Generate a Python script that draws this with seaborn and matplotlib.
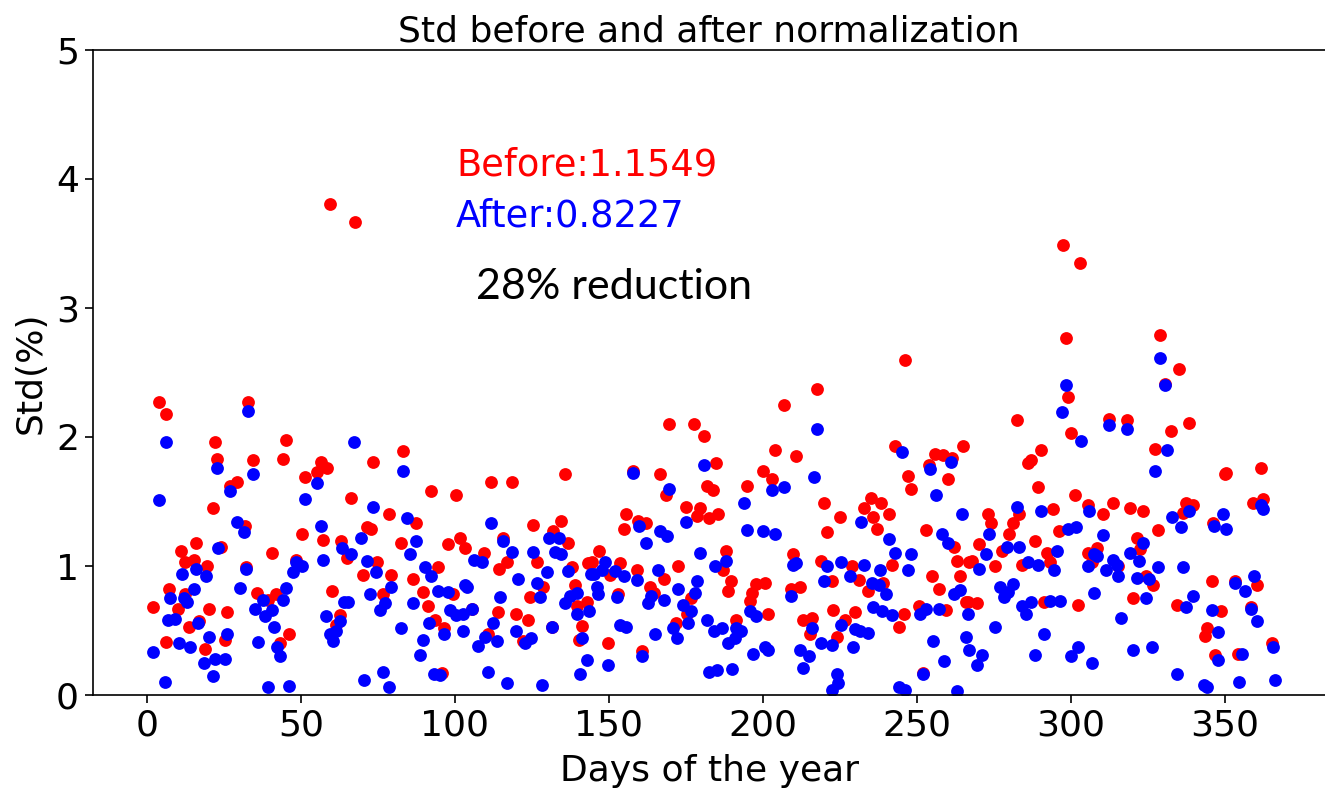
import matplotlib
matplotlib.use("Agg")
import matplotlib.pyplot as plt
import pandas as pd
import seaborn as sns

# std per day before normalization (red)
before_day = [
    2, 4, 6.2, 6.1, 7.1, 10, 11, 12.3, 12.4, 13.6, 15.4, 16.1, 16.8, 19, 19.4, 20, 21.3, 22, 22.6,
    23.9, 25.3, 26.1, 27, 29.4, 31.8, 32.1, 32.9, 34.5, 35.9, 39.4, 40.5, 41.9, 43.2, 44.3, 45.1,
    46.1, 48.3, 50.4, 51.3, 55.1, 56.5, 57.3, 58.5, 59.4, 60.2, 61.3, 63, 67.5,
    62.7, 65, 66.4, 70.2, 71.3, 72.6, 73.3, 74.6, 76.7, 78.6, 79.4, 82.5, 83.2, 86.5, 87.3, 89.5,
    91.3, 92.4, 93.5, 94.6, 95.7, 96.5, 97.6, 99.5, 100.2, 101.6, 103.2,
    105.4, 109.4, 110.8, 111.7, 113.9, 114.4, 115.7, 116.8, 118.4, 119.8, 122.2, 123.8, 124.4,
    125.4, 126.7, 128.7, 131.4, 131.9, 134.4, 135.7, 136.8, 137.9, 139, 139.5, 140.4, 141.4,
    142.8, 143.3,
    144.4, 146.7, 149.8, 150.3, 153, 153.6, 154.9, 155.7, 157.9, 159, 159.5, 160.6, 162, 163.3,
    164.7, 166.6, 167.9, 168.7, 169.6, 171.8, 172.5, 174.9, 175.5, 176.8, 177.7, 178.5, 179.5,
    181, 181.7, 182.6, 183.9, 184.7, 185.5,
    187.1, 188, 188.7, 189.8, 191.4, 194.7, 195.8, 196.3, 197.7, 200.1, 200.8, 201.7, 203, 203.9,
    206.9, 209.1, 209.8, 210.7, 212, 213.1, 215.2, 215.8, 217.7, 218.8, 219.9, 220.9, 222.3,
    222.8, 223.9, 225,
    226.6, 229, 229.9, 231.3, 232.8, 234.2, 235, 235.8, 237.2, 238.2, 239, 241, 242, 242.9, 244.2,
    245.9, 246, 247.2, 248, 250.8, 252.1, 253.1, 254, 255, 255.8, 257.1, 258.5, 259.4, 260.2,
    261.3, 262.1, 263.1, 264, 265, 265.9, 267,
    266.7, 267.8, 269.6, 270.1, 273.2, 274, 275.3, 277.5, 280, 281.1, 282.4, 283.2, 284, 286.2,
    287.2, 288.3, 289.2, 290.3, 291.4, 292.1, 293.2, 294.3, 296.1, 297.3, 298.5, 299.1, 300,
    301.3, 302.4, 303, 305.4, 305.6,
    306.7, 308.4, 310.5, 312.4, 313.6, 315.4, 318.3, 319.2, 320.3, 321.4, 322.4, 323.5, 324.4,
    326.5, 327.3, 328.4, 328.8, 330.5, 332.5, 334.3, 335, 336.5, 337.3, 338.3, 339.8, 343.5,
    344.1, 345.7, 346.2, 346.8,
    348.7, 350, 350.5, 353.2, 354.3, 358.4, 359.2, 360.3, 361.7, 362.4, 365.4,
]
before_std = [
    0.68, 2.27, 2.18, 0.41, 0.82, 0.67, 1.12, 1.03, 0.78, 0.53, 1.05, 1.18, 0.57, 0.36, 1.0, 0.67, 1.45, 1.96, 1.83,
    1.15, 0.43, 0.64, 1.62, 1.65, 1.31, 0.99, 2.27, 1.82, 0.79, 0.74, 1.10, 0.78, 0.40, 1.83, 1.98,
    0.47, 1.05, 1.25, 1.69, 1.73, 1.81, 1.20, 1.76, 3.81, 0.81, 0.54, 1.19, 3.67,
    0.62, 1.06, 1.53, 0.93, 1.30, 1.29, 1.81, 1.03, 0.78, 1.40, 0.93, 1.18, 1.89, 0.90, 1.33, 0.80,
    0.69, 1.58, 0.58, 0.99, 0.17, 0.52, 1.17, 0.78, 1.55, 1.22, 1.14,
    0.67, 1.10, 0.47, 1.65, 0.64, 0.98, 1.22, 1.03, 1.65, 0.63, 0.42, 0.58, 0.76,
    1.32, 1.03, 0.84, 0.53, 1.27, 1.35, 1.71, 1.18, 0.99, 0.85, 0.69, 0.43, 0.535,
    0.72, 1.02,
    1.03, 1.12, 0.40, 0.93, 0.78, 1.02, 1.29, 1.40, 1.74, 0.97, 1.35, 0.34, 1.33, 0.84,
    0.79, 1.71, 0.90, 1.55, 2.10, 0.56, 1.0, 1.46, 0.63, 0.75, 2.10, 1.39, 1.45,
    2.01, 1.62, 1.37, 1.59, 1.80, 1.40,
    0.97, 1.12, 0.81, 0.88, 0.58, 1.62, 0.73, 0.79, 0.86, 1.74, 0.87, 0.63, 1.675, 1.90,
    2.25, 0.82, 1.09, 1.85, 0.84, 0.58, 0.47, 0.60, 2.37, 1.04, 1.49, 1.26, 0.88,
    0.66, 0.45, 1.38,
    0.58, 1.0, 0.64, 0.89, 1.45, 0.81, 1.53, 1.38, 1.29, 1.49, 0.87, 1.40, 1.01, 1.93, 0.525,
    0.63, 2.60, 1.70, 1.60, 0.69, 0.17, 1.28, 1.78, 0.92, 1.87, 0.82, 1.86, 0.66, 1.675,
    1.84, 1.15, 1.04, 0.92, 1.93, 0.72, 1.03,
    0.72, 1.04, 0.71, 1.17, 1.40, 1.33, 1.0, 1.12, 1.25, 1.33, 2.13, 1.40, 1.01, 1.80,
    1.82, 1.19, 1.61, 1.90, 0.72, 1.10, 1.03, 1.44, 1.27, 3.49, 2.77, 2.31, 2.03,
    1.55, 0.70, 3.35, 1.10, 1.47,
    1.03, 1.14, 1.40, 2.14, 1.49, 1.0, 2.13, 1.45, 0.75, 1.22, 1.13, 1.43, 0.92,
    0.85, 1.91, 1.28, 2.79, 2.41, 2.05, 0.70, 2.53, 1.41, 1.49, 2.11, 1.47, 0.46,
    0.52, 0.88, 1.33, 0.31,
    0.65, 1.71, 1.72, 0.88, 0.32, 0.68, 1.49, 0.85, 1.76, 1.52, 0.40,
]

# std per day after normalization (blue)
after_day = [
    2, 4, 6, 6.2, 7, 7.6, 9, 10.5, 11.3, 12, 13, 14, 15.4, 16, 16.6, 18.6, 19.3, 20, 21.5, 22.2,
    22.6, 23,
    25.3, 26.1, 27, 29.1, 30.2, 31.6, 32.1, 32.9, 34.5, 35.1, 36.2, 37.6, 38.3, 39.2, 40.5, 41.3,
    42.4, 43.2, 44.3, 45.1, 46.1, 47.5, 48.3, 50.5, 51.3, 55.3, 56.5, 57.3, 58.3, 59.4, 60.5,
    61.3, 63.2, 64.1,
    62.7, 65.2, 66.4, 67.3, 69.5, 70.5, 71.3, 72.4, 73.3, 74.3, 75.6, 76.5, 77.3, 78.7, 79.4,
    82.5, 83.2, 84.3, 85.4, 86.5, 87.3, 88.6, 89.5, 90.3, 91.7, 92.4, 93.3, 94.6, 95.1, 96.5,
    97.8, 98.4, 100.5, 102.5, 102.7, 103.2,
    103.8, 105.4, 106.3, 107.6, 108.7, 109.7, 110.8, 111.7, 112.4, 113.8, 114.6, 115.7, 116.8,
    118.4, 119.8, 120.6, 122.7, 124.6, 125.4, 126.7, 127.6, 128.4, 129.8, 130.6, 131.4, 132.5,
    133.9, 134.6, 135.7, 136.8, 137.3, 139.5, 139.8, 140.6, 141.3, 143, 143.5, 144.2,
    145, 146, 146.5, 147.6, 148.7, 149.8, 151.9, 152.5, 153.6, 155, 155.7, 157.9, 159, 159.7,
    160.6, 162, 162.8, 163.6, 165, 165.8, 166.6, 168, 168.9, 169.6, 170.9, 172, 172.5, 174.1,
    174.9, 175.8, 176.8, 177.9, 178.7, 179.5, 181, 181.7, 182.6, 184.1, 184.4, 185,
    186.6, 188, 188.7, 190, 190.9, 191.4, 193, 193.9, 194.7, 195.8, 196.8, 197.9, 200.1, 200.6,
    201.7, 203, 203.9, 206.9, 209.1, 209.8, 210.9, 212, 213.1, 214.9, 216, 216.7, 217.7, 218.8,
    219.9, 220.7, 222.3, 222.3, 223.9, 224.5, 225.5, 225.5,
    228.2, 229.1, 229.9, 231.5, 232, 232.8, 234.2, 235.3, 235.8, 237.8, 238, 238.7, 239.9, 241,
    241.8, 242.9, 244.3, 245, 246.1, 247.2, 248, 251, 252.1, 253.1, 254.2, 255.1, 256.2, 257.3,
    258, 258.9, 260.2, 261, 262, 262.9, 264, 264.8, 265.9, 266.5, 267,
    269.4, 270.1, 271, 272.3, 273.5, 275.3, 277, 278.4, 279.3, 279.7, 281.3, 282.4, 283.2, 284,
    285.4, 286.2, 287.2, 288.3, 289.4, 290.3, 291.4, 293.2, 294.6, 295.4, 296.4, 297, 298.3,
    299.2, 300, 301.5, 302.4, 303.2, 305.4, 306, 306.7, 307.6, 307.6,
    308.4, 310.5, 311.4, 312.4, 313.8, 314.9, 315.4, 316.2, 318.3, 319.2, 320.3, 321.4, 322.2,
    323.5, 324.4, 325.5, 326.4, 327.3, 328.4, 328.8, 330.5, 331.3, 332.7, 334.3, 335.6, 336.5,
    337.4, 338.3, 339.5, 343.3, 344.1, 345.7, 346.5, 347.9,
    347.6, 349.5, 350.3, 353.2, 354.5, 355.4, 356.5, 358.4, 359.5, 360.3, 361.7, 362.4, 365.5,
    366.2,
]
after_std = [
    0.33, 1.51, 0.10, 1.96, 0.58, 0.75, 0.59, 0.40, 0.94, 0.75, 0.72, 0.37, 0.82, 0.98, 0.56, 0.25, 0.92, 0.45, 0.15, 0.28,
    1.76, 1.14,
    0.28, 0.47, 1.58, 1.34, 0.83, 1.26, 0.98, 2.20, 1.71, 0.67, 0.41, 0.74, 0.61, 0.06, 0.66, 0.525,
    0.375, 0.305, 0.74, 0.83, 0.07, 0.95, 1.03, 1.0, 1.52, 1.64, 1.31, 1.05, 0.61, 0.47, 0.42,
    0.50, 1.14, 0.72,
    0.57, 0.72, 1.09, 1.96, 1.22, 0.12, 1.04, 0.78, 1.46, 0.95, 0.66, 0.18, 0.71, 0.06, 0.84,
    0.52, 1.74, 1.37, 1.09, 0.71, 1.19, 0.31, 0.43, 0.99, 0.56, 0.92, 0.16, 0.81, 0.155, 0.47,
    0.80, 0.66, 0.62, 0.50, 0.63, 0.85,
    0.84, 0.67, 1.05, 0.38, 1.03, 0.45, 0.18, 1.33, 0.56, 0.42, 0.76, 1.19, 0.09,
    1.11, 0.50, 0.90, 0.40, 0.44, 1.11, 0.87, 0.76, 0.08, 0.95, 1.22, 0.53, 1.11,
    1.22, 1.09, 0.71, 0.96, 0.77, 0.79, 0.63, 0.16, 0.44, 0.27, 0.65, 0.94,
    0.94, 0.84, 0.78, 0.97, 1.03, 0.23, 0.96, 0.76, 0.54, 0.92, 0.53, 1.72, 0.89, 1.31,
    0.30, 1.18, 0.71, 0.77, 0.47, 0.97, 1.27, 0.74, 1.23, 1.60, 0.52, 0.44, 0.82, 0.70,
    1.34, 0.56, 0.65, 0.79, 0.88, 1.10, 1.78, 0.58, 0.18, 0.50, 1.0, 0.19,
    0.52, 1.04, 0.40, 0.20, 0.44, 0.52, 0.50, 1.49, 1.28, 0.65, 0.32, 0.61, 1.27, 0.375,
    0.35, 1.59, 1.25, 1.61, 0.77, 1.01, 1.02, 0.35, 0.21, 0.30, 0.52, 1.69, 2.06, 0.40,
    0.88, 1.0, 0.39, 0.04, 0.16, 0.09, 1.03, 0.54,
    0.92, 0.37, 0.51, 0.50, 1.34, 1.01, 0.48, 0.87, 0.68, 0.85, 0.97, 0.65, 0.78, 1.21,
    0.62, 1.10, 0.06, 1.88, 0.04, 0.97, 1.09, 0.63, 0.16, 0.67, 1.75, 0.42, 1.55, 0.67,
    1.25, 0.26, 1.18, 1.81, 0.78, 0.03, 0.815, 1.40, 0.45, 0.63, 0.35,
    0.23, 0.98, 0.31, 1.09, 1.25, 0.53, 0.84, 0.76, 1.15, 0.80, 0.86, 1.46, 1.15, 0.69,
    0.63, 1.03, 0.72, 0.31, 1.01, 1.43, 0.47, 0.73, 0.97, 1.12, 0.73, 2.19, 2.40,
    1.29, 0.30, 1.30, 0.37, 1.97, 1.0, 1.43, 0.25, 1.09, 0.79,
    1.08, 1.24, 0.97, 2.09, 1.05, 1.01, 0.92, 0.60, 2.06, 1.10, 0.35, 0.91, 1.04,
    1.18, 0.75, 0.90, 0.37, 1.74, 0.99, 2.61, 2.40, 1.90, 1.38, 0.16, 1.30, 0.99,
    0.68, 1.43, 0.77, 0.08, 0.06, 0.66, 1.31, 0.49,
    0.27, 1.40, 1.29, 0.87, 0.097, 0.32, 0.81, 0.67, 0.92, 0.57, 1.47, 1.44, 0.375,
    0.12,
]

before = pd.DataFrame({"day": before_day, "std": before_std})
after = pd.DataFrame({"day": after_day, "std": after_std})

sns.set_style("ticks")
plt.rcParams["font.family"] = ["DejaVu Sans"]
plt.rcParams["text.color"] = "black"
plt.rcParams["axes.labelcolor"] = "black"
plt.rcParams["xtick.color"] = "black"
plt.rcParams["ytick.color"] = "black"

fig = plt.figure(figsize=(13.25, 7.88), dpi=100)
ax = fig.add_axes([93 / 1325, 1 - 695 / 788, 1 - 93 / 1325, (695 - 50) / 788])

sns.scatterplot(data=before, x="day", y="std", color="#ff0000", s=85, linewidth=0, ax=ax)
sns.scatterplot(data=after, x="day", y="std", color="#0000ff", s=85, linewidth=0, ax=ax)

ax.set_xlim(-17.5, 382.5)
ax.set_ylim(0, 5)
ax.set_xticks([0, 50, 100, 150, 200, 250, 300, 350])
ax.set_yticks([0, 1, 2, 3, 4, 5])
ax.tick_params(labelsize=26, length=6, width=1.2, colors="black", pad=4)
ax.spines["right"].set_visible(False)
for side in ["left", "bottom", "top"]:
    ax.spines[side].set_color("black")
    ax.spines[side].set_linewidth(1.2)

ax.set_xlabel("Days of the year", fontsize=26, labelpad=8)
ax.set_ylabel("Std(%)", fontsize=26, labelpad=6)
ax.set_title("Std before and after normalization", fontsize=26, pad=6)

fig.text(456 / 1325, 1 - 165 / 788, "Before:1.1549", color="#ff0000", fontsize=26.5, va="center")
fig.text(456 / 1325, 1 - 216 / 788, "After:0.8227", color="#0000ff", fontsize=26.5, va="center")
fig.text(476 / 1325, 1 - 287 / 788, "28% reduction", color="black", fontsize=31,
         va="center", family=["Lato", "DejaVu Sans"])

fig.savefig("out.png", dpi=100)
plt.close(fig)
